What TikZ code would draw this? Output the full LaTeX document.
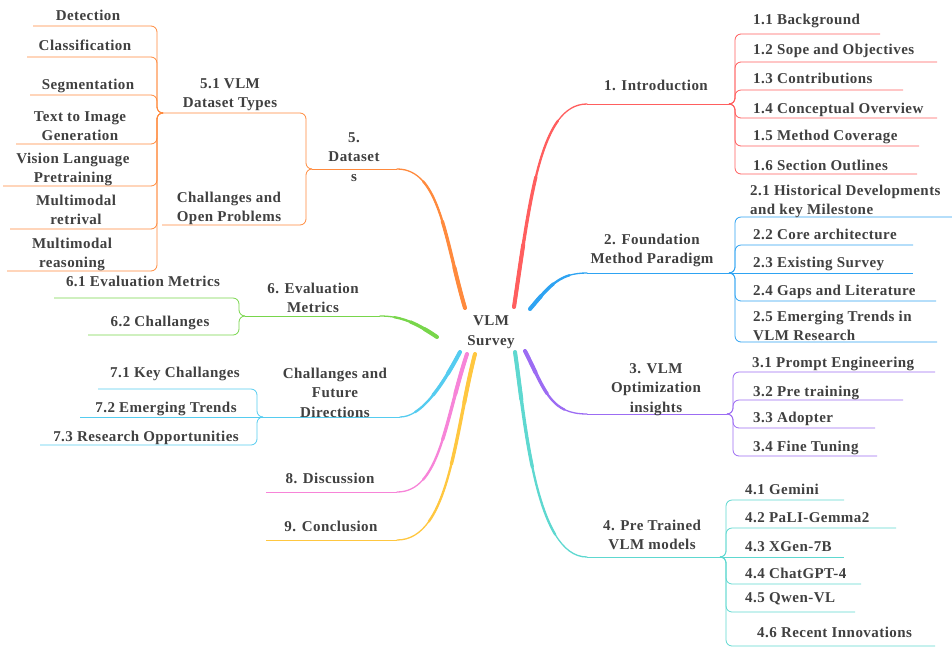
\documentclass[tikz,border=0pt]{standalone}
\usepackage{fontspec}
\setmainfont{Liberation Serif}[LetterSpace=3]
\usetikzlibrary{calc}
\definecolor{txt}{HTML}{404040}
\definecolor{cred}{HTML}{FF5E5E}
\definecolor{cblue}{HTML}{2EA3F2}
\definecolor{cpurple}{HTML}{9C6CF3}
\definecolor{cteal}{HTML}{5ED8D0}
\definecolor{corange}{HTML}{FF8A3D}
\definecolor{cgreen}{HTML}{78D64B}
\definecolor{clblue}{HTML}{55CCF0}
\definecolor{cpink}{HTML}{F784D8}
\definecolor{cyellow}{HTML}{FFC740}
% tapered main branch: colour, start, control 1, control 2, end
\newcommand\taperbranch[5]{%
  \draw[line width=1.3pt,line cap=round,#1] (#2) .. controls (#3) and (#4) .. (#5);
  \foreach \tv/\wv in {0.75/2.3pt,0.45/3.3pt,0.2/4pt}{%
    \coordinate (qab) at ($(#2)!\tv!(#3)$);
    \coordinate (qbc) at ($(#3)!\tv!(#4)$);
    \coordinate (qcd) at ($(#4)!\tv!(#5)$);
    \coordinate (qabc) at ($(qab)!\tv!(qbc)$);
    \coordinate (qbcd) at ($(qbc)!\tv!(qcd)$);
    \coordinate (qabcd) at ($(qabc)!\tv!(qbcd)$);
    \draw[line width=\wv,line cap=round,#1] (#2) .. controls (qab) and (qabc) .. (qabcd);
  }%
}
\begin{document}
\begin{tikzpicture}[x=1pt,y=-1pt,
  lbl/.style={font=\fontsize{15}{19.5}\selectfont\bfseries, text=txt, inner sep=0pt, align=center, anchor=base},
  lbll/.style={lbl, align=left, anchor=base west},
  thinl/.style={line width=0.8pt},
  br/.style={line width=0.8pt, rounded corners=6pt}]
\useasboundingbox[fill=white] (0,0) rectangle (952,654);

% centre (multi-line nodes: anchor at the baseline of the last line)
\node[lbl] (vlm) at (491,345) {VLM\\Survey};

% coordinates near centre
\coordinate (s1) at (514,307);
\coordinate (s2) at (530,309);
\coordinate (s3) at (525,351);
\coordinate (s4) at (515,352);
\coordinate (s5) at (465,308);
\coordinate (s6) at (437,337);
\coordinate (s7) at (460,352);
\coordinate (s8) at (467,354);
\coordinate (s9) at (475,354);
% branch starts
\coordinate (b1) at (587,104);
\coordinate (b2) at (587,273);
\coordinate (b3) at (587,414);
\coordinate (b4) at (587,557);
\coordinate (b5) at (397,169);
\coordinate (b6) at (380,316);
\coordinate (b7) at (400,417);
\coordinate (b8) at (397,492);
\coordinate (b9) at (397,540);
% curve controls
\coordinate (k1a) at (530,200); \coordinate (k1b) at (540,104);
\coordinate (k2a) at (550,285); \coordinate (k2b) at (560,273);
\coordinate (k3a) at (545,390); \coordinate (k3b) at (550,414);
\coordinate (k4a) at (525,420); \coordinate (k4b) at (535,557);
\coordinate (k5a) at (445,240); \coordinate (k5b) at (440,169);
\coordinate (k6a) at (415,322); \coordinate (k6b) at (400,316);
\coordinate (k7a) at (440,390); \coordinate (k7b) at (420,417);
\coordinate (k8a) at (445,420); \coordinate (k8b) at (440,492);
\coordinate (k9a) at (455,430); \coordinate (k9b) at (450,540);
% forks
\coordinate (f1) at (729,104);
\coordinate (f2) at (729,273);
\coordinate (f3) at (727,414);
\coordinate (f4) at (720,557);
\coordinate (f5) at (312,169);
\coordinate (f6) at (245,316);
\coordinate (f7) at (263,417);
\coordinate (e8) at (266,492);
\coordinate (e9) at (266,540);
\coordinate (f51) at (163,113);
\coordinate (e52) at (162,225);

% ---------- Branch 1
\taperbranch{cred}{s1}{k1a}{k1b}{b1}
\draw[thinl,cred] (b1) -- (f1);
\node[lbl] (n1) at (656,90) {1. Introduction};
\coordinate (e11) at (880,34);
\coordinate (e12) at (937,62);
\coordinate (e13) at (903,90);
\coordinate (e14) at (937,118);
\coordinate (e15) at (919,146);
\coordinate (e16) at (917,174);
\foreach \c in {e11,e12,e13,e14,e15,e16}
  \draw[br,cred] (f1) -- ++(6,0) |- (\c);
\node[lbll] (n11) at (753,24) {1.1 Background};
\node[lbll] (n12) at (753,54) {1.2 Sope and Objectives};
\node[lbll] (n13) at (753,83) {1.3 Contributions};
\node[lbll] (n14) at (753,113) {1.4 Conceptual Overview};
\node[lbll] (n15) at (753,140) {1.5 Method Coverage};
\node[lbll] (n16) at (753,170) {1.6 Section Outlines};

% ---------- Branch 2
\taperbranch{cblue}{s2}{k2a}{k2b}{b2}
\draw[thinl,cblue] (b2) -- (f2);
\node[lbl] (n2) at (652,263.5) {2. Foundation\\Method Paradigm};
\coordinate (e21) at (952,217);
\coordinate (e22) at (913,245);
\coordinate (e23) at (913,273);
\coordinate (e24) at (936,301);
\coordinate (e25) at (937,342);
\foreach \c in {e21,e22,e24,e25}
  \draw[br,cblue] (f2) -- ++(6,0) |- (\c);
\draw[thinl,cblue] (f2) -- (e23);
\node[lbll] (n21) at (750,214.5) {2.1 Historical Developments\\and key Milestone};
\node[lbll] (n22) at (753,239) {2.2 Core architecture};
\node[lbll] (n23) at (753,267) {2.3 Existing Survey};
\node[lbll] (n24) at (753,295) {2.4 Gaps and Literature};
\node[lbll] (n25) at (753,340.5) {2.5 Emerging Trends in\\VLM Research};

% ---------- Branch 3
\taperbranch{cpurple}{s3}{k3a}{k3b}{b3}
\draw[thinl,cpurple] (b3) -- (f3);
\node[lbl] (n3) at (656,412) {3. VLM\\Optimization\\insights};
\coordinate (e31) at (935,372);
\coordinate (e32) at (903,400);
\coordinate (e33) at (875,428);
\coordinate (e34) at (877,456);
\foreach \c in {e31,e32,e33,e34}
  \draw[br,cpurple] (f3) -- ++(6,0) |- (\c);
\node[lbll] (n31) at (752,367) {3.1 Prompt Engineering};
\node[lbll] (n32) at (753,396) {3.2 Pre training};
\node[lbll] (n33) at (753,422) {3.3 Adopter};
\node[lbll] (n34) at (753,451) {3.4 Fine Tuning};

% ---------- Branch 4
\taperbranch{cteal}{s4}{k4a}{k4b}{b4}
\draw[thinl,cteal] (b4) -- (f4);
\node[lbl] (n4) at (652,549.5) {4. Pre Trained\\VLM models};
\coordinate (e41) at (844,500);
\coordinate (e42) at (896,528);
\coordinate (e43) at (844,557);
\coordinate (e44) at (861,584);
\coordinate (e45) at (855,612);
\coordinate (e46) at (935,646);
\foreach \c in {e41,e42,e44,e45,e46}
  \draw[br,cteal] (f4) -- ++(6,0) |- (\c);
\draw[thinl,cteal] (f4) -- (e43);
\node[lbll] (n41) at (745,494) {4.1 Gemini};
\node[lbll] (n42) at (745,522) {4.2 PaLI-Gemma2};
\node[lbll] (n43) at (745,551) {4.3 XGen-7B};
\node[lbll] (n44) at (745,578) {4.4 ChatGPT-4};
\node[lbll] (n45) at (745,602) {4.5 Qwen-VL};
\node[lbll] (n46) at (757,637) {4.6 Recent Innovations};

% ---------- Branch 5
\taperbranch{corange}{s5}{k5a}{k5b}{b5}
\draw[thinl,corange] (b5) -- (f5);
\node[lbl] (n5) at (354,181) {5.\\Dataset\\s};
\draw[br,corange] (f5) -- ++(-6,0) |- (f51);
\draw[br,corange] (f5) -- ++(-6,0) |- (e52);
\node[lbl] (n51) at (230,107.5) {5.1 VLM\\Dataset Types};
\node[lbl] (n52) at (229,221.5) {Challanges and\\Open Problems};
\coordinate (d1) at (33,26);
\coordinate (d2) at (27,57);
\coordinate (d3) at (30,95);
\coordinate (d4) at (16,144);
\coordinate (d5) at (3,186);
\coordinate (d6) at (10,229);
\coordinate (d7) at (7,271);
\foreach \c in {d1,d2,d3,d4,d5,d6,d7}
  \draw[br,corange] (f51) -- ++(-6,0) |- (\c);
\node[lbl] (m1) at (88,20) {Detection};
\node[lbl] (m2) at (85,50) {Classification};
\node[lbl] (m3) at (88,89) {Segmentation};
\node[lbl] (m4) at (80,140.5) {Text to Image\\Generation};
\node[lbl] (m5) at (73,182.5) {Vision Language\\Pretraining};
\node[lbl] (m6) at (76,224.5) {Multimodal\\retrival};
\node[lbl] (m7) at (72,267.5) {Multimodal\\reasoning};

% ---------- Branch 6
\taperbranch{cgreen}{s6}{k6a}{k6b}{b6}
\draw[thinl,cgreen] (b6) -- (f6);
\node[lbl] (n6) at (313,312.5) {6. Evaluation\\Metrics};
\coordinate (e61) at (54,298);
\coordinate (e62) at (88,335);
\foreach \c in {e61,e62}
  \draw[br,cgreen] (f6) -- ++(-6,0) |- (\c);
\node[lbl] (n61) at (143,286) {6.1 Evaluation Metrics};
\node[lbl] (n62) at (160,326) {6.2 Challanges};

% ---------- Branch 7
\taperbranch{clblue}{s7}{k7a}{k7b}{b7}
\draw[thinl,clblue] (b7) -- (f7);
\node[lbl] (n7) at (335,417) {Challanges and\\Future\\Directions};
\coordinate (e71) at (98,389);
\coordinate (e72) at (80,417);
\coordinate (e73) at (40,445);
\foreach \c in {e71,e73}
  \draw[br,clblue] (f7) -- ++(-6,0) |- (\c);
\draw[thinl,clblue] (f7) -- (e72);
\node[lbl] (n71) at (175,377) {7.1 Key Challanges};
\node[lbl] (n72) at (166,412) {7.2 Emerging Trends};
\node[lbl] (n73) at (146,441) {7.3 Research Opportunities};

% ---------- Branch 8
\taperbranch{cpink}{s8}{k8a}{k8b}{b8}
\draw[thinl,cpink] (b8) -- (e8);
\node[lbl] (n8) at (330,483) {8. Discussion};

% ---------- Branch 9
\taperbranch{cyellow}{s9}{k9a}{k9b}{b9}
\draw[thinl,cyellow] (b9) -- (e9);
\node[lbl] (n9) at (331,531) {9. Conclusion};
\end{tikzpicture}
\end{document}
